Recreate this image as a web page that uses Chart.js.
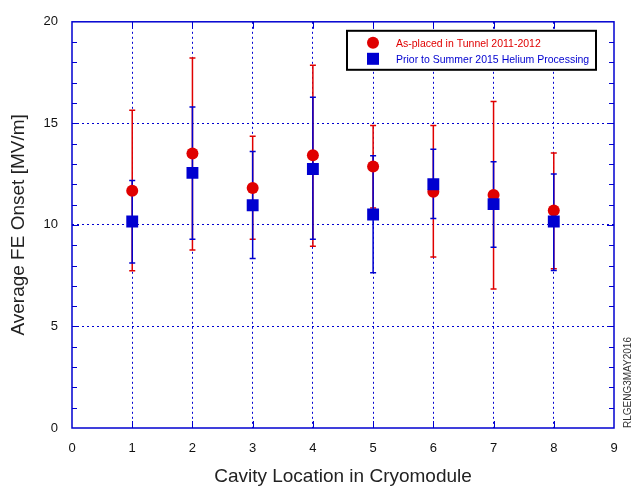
<!DOCTYPE html>
<html>
<head>
<meta charset="utf-8">
<script src="https://cdn.jsdelivr.net/npm/chart.js@4.4.0/dist/chart.umd.min.js"></script>
<style>
  html, body { margin: 0; padding: 0; background: #fff; }
  #wrap { width: 632px; height: 491px; }
</style>
</head>
<body>
<div id="wrap"><canvas id="chart" width="632" height="491"></canvas></div>
<script>
// cavity positions
const cavities = [1, 2, 3, 4, 5, 6, 7, 8];

// as-placed in tunnel 2011-2012
const tunnelMean = [11.68, 13.51, 11.82, 13.43, 12.87, 11.63, 11.47, 10.71];
const tunnelHigh = [15.65, 18.22, 14.36, 17.86, 14.89, 14.89, 16.08, 13.54];
const tunnelLow  = [7.74, 8.77, 9.29, 8.95, 10.83, 8.42, 6.84, 7.84];

// prior to summer 2015 helium processing
const priorMean = [10.17, 12.56, 10.97, 12.75, 10.51, 12.0, 11.02, 10.17];
const priorHigh = [12.19, 15.81, 13.62, 16.29, 13.4, 13.72, 13.11, 12.51];
const priorLow  = [8.13, 9.29, 8.34, 9.29, 7.65, 10.31, 8.9, 7.76];

const xTicks = [0, 1, 2, 3, 4, 5, 6, 7, 8, 9];
const yTicks = [0, 5, 10, 15, 20];

const RED = '#e00000';
const BLUE = '#0000d0';
const FONT = '"Liberation Sans", Arial, Helvetica, sans-serif';

function points(xs, ys, lo, hi) {
    return xs.map((x, i) => ({ x: x, y: ys[i], yMin: lo[i], yMax: hi[i] }));
}

// error bars, drawn under the markers
const errorBars = {
    id: 'errorBars',
    beforeDatasetsDraw(chart) {
        const ctx = chart.ctx;
        const xs = chart.scales.x, ys = chart.scales.y;
        chart.data.datasets.forEach(ds => {
            ctx.save();
            ctx.strokeStyle = ds.borderColor;
            ctx.lineWidth = 1.5;
            ds.data.forEach(p => {
                const px = xs.getPixelForValue(p.x);
                const top = ys.getPixelForValue(p.yMax);
                const bot = ys.getPixelForValue(p.yMin);
                ctx.beginPath();
                ctx.moveTo(px, top); ctx.lineTo(px, bot);
                ctx.moveTo(px - 3, top); ctx.lineTo(px + 3, top);
                ctx.moveTo(px - 3, bot); ctx.lineTo(px + 3, bot);
                ctx.stroke();
            });
            ctx.restore();
        });
    }
};

// frame, inner ticks, legend box and the side stamp
const decorations = {
    id: 'decorations',
    afterDraw(chart) {
        const ctx = chart.ctx;
        const a = chart.chartArea;
        const xs = chart.scales.x, ys = chart.scales.y;
        ctx.save();
        ctx.strokeStyle = BLUE;
        ctx.lineWidth = 1.5;
        ctx.strokeRect(a.left, a.top, a.right - a.left, a.bottom - a.top);

        ctx.lineWidth = 1;
        ctx.beginPath();
        for (let v = 1; v < 20; v++) {
            const py = Math.round(ys.getPixelForValue(v)) + 0.5;
            const len = v % 5 === 0 ? 7 : 5;
            ctx.moveTo(a.left, py); ctx.lineTo(a.left + len, py);
            ctx.moveTo(a.right, py); ctx.lineTo(a.right - len, py);
        }
        for (let v = 1; v < 9; v++) {
            const px = Math.round(xs.getPixelForValue(v)) + 0.5;
            ctx.moveTo(px, a.top); ctx.lineTo(px, a.top + 7);
            ctx.moveTo(px, a.bottom); ctx.lineTo(px, a.bottom - 7);
        }
        ctx.stroke();

        // legend
        const bx = a.right - 267, by = a.top + 9;
        ctx.fillStyle = '#fff';
        ctx.fillRect(bx, by, 249, 39);
        ctx.strokeStyle = '#000';
        ctx.lineWidth = 2;
        ctx.strokeRect(bx, by, 249, 39);
        ctx.font = '10.5px ' + FONT;
        ctx.textBaseline = 'middle';
        ctx.textAlign = 'left';
        chart.data.datasets.forEach((ds, i) => {
            const cy = by + 12 + i * 16;
            ctx.fillStyle = ds.backgroundColor;
            if (ds.pointStyle === 'rect') {
                ctx.fillRect(bx + 20, cy - 6, 12, 12);
            } else {
                ctx.beginPath();
                ctx.arc(bx + 26, cy, 6, 0, Math.PI * 2);
                ctx.fill();
            }
            ctx.fillText(ds.label, bx + 49, cy + 1);
        });

        // stamp
        ctx.translate(628, a.bottom);
        ctx.rotate(-Math.PI / 2);
        ctx.fillStyle = '#333';
        ctx.font = '10px ' + FONT;
        ctx.textAlign = 'left';
        ctx.fillText('RLGENG3MAY2016', 0, 0);
        ctx.restore();
    }
};

function gridColor(c, lo, hi) {
    const v = c.tick ? c.tick.value : null;
    return (v === lo || v === hi) ? 'rgba(0,0,0,0)' : BLUE;
}

new Chart(document.getElementById('chart'), {
    type: 'scatter',
    data: {
        datasets: [{
            label: 'As-placed in Tunnel 2011-2012',
            data: points(cavities, tunnelMean, tunnelLow, tunnelHigh),
            backgroundColor: RED,
            borderColor: RED,
            pointStyle: 'circle',
            pointRadius: 6,
            pointBorderWidth: 0,
            order: 2
        }, {
            label: 'Prior to Summer 2015 Helium Processing',
            data: points(cavities, priorMean, priorLow, priorHigh),
            backgroundColor: BLUE,
            borderColor: BLUE,
            pointStyle: 'rect',
            pointRadius: 8.4,
            pointBorderWidth: 0,
            order: 1
        }]
    },
    options: {
        responsive: false,
        animation: false,
        events: [],
        layout: { padding: { top: 13, right: 18, left: 0, bottom: 0 } },
        plugins: {
            legend: { display: false },
            tooltip: { enabled: false }
        },
        scales: {
            x: {
                type: 'linear',
                min: 0,
                max: 9,
                afterBuildTicks: s => { s.ticks = xTicks.map(v => ({ value: v })); },
                afterFit: s => { s.height = 63; },
                grid: {
                    color: c => gridColor(c, 0, 9),
                    lineWidth: 1,
                    drawTicks: false
                },
                border: { display: false, dash: [2, 3] },
                ticks: {
                    padding: 13,
                    color: '#111',
                    font: { family: FONT, size: 13 }
                },
                title: {
                    display: true,
                    text: 'Cavity Location in Cryomodule',
                    color: '#222',
                    padding: { top: 0, bottom: 3 },
                    font: { family: FONT, size: 19 }
                }
            },
            y: {
                type: 'linear',
                min: 0,
                max: 20,
                afterBuildTicks: s => { s.ticks = yTicks.map(v => ({ value: v })); },
                afterFit: s => { s.width = 72; },
                grid: {
                    color: c => gridColor(c, 0, 20),
                    lineWidth: 1,
                    drawTicks: false
                },
                border: { display: false, dash: [2, 3] },
                ticks: {
                    padding: 14,
                    color: '#111',
                    font: { family: FONT, size: 13 }
                },
                title: {
                    display: true,
                    text: 'Average FE Onset [MV/m]',
                    color: '#222',
                    padding: { top: 7, bottom: 0 },
                    font: { family: FONT, size: 19 }
                }
            }
        }
    },
    plugins: [errorBars, decorations]
});
</script>
</body>
</html>
